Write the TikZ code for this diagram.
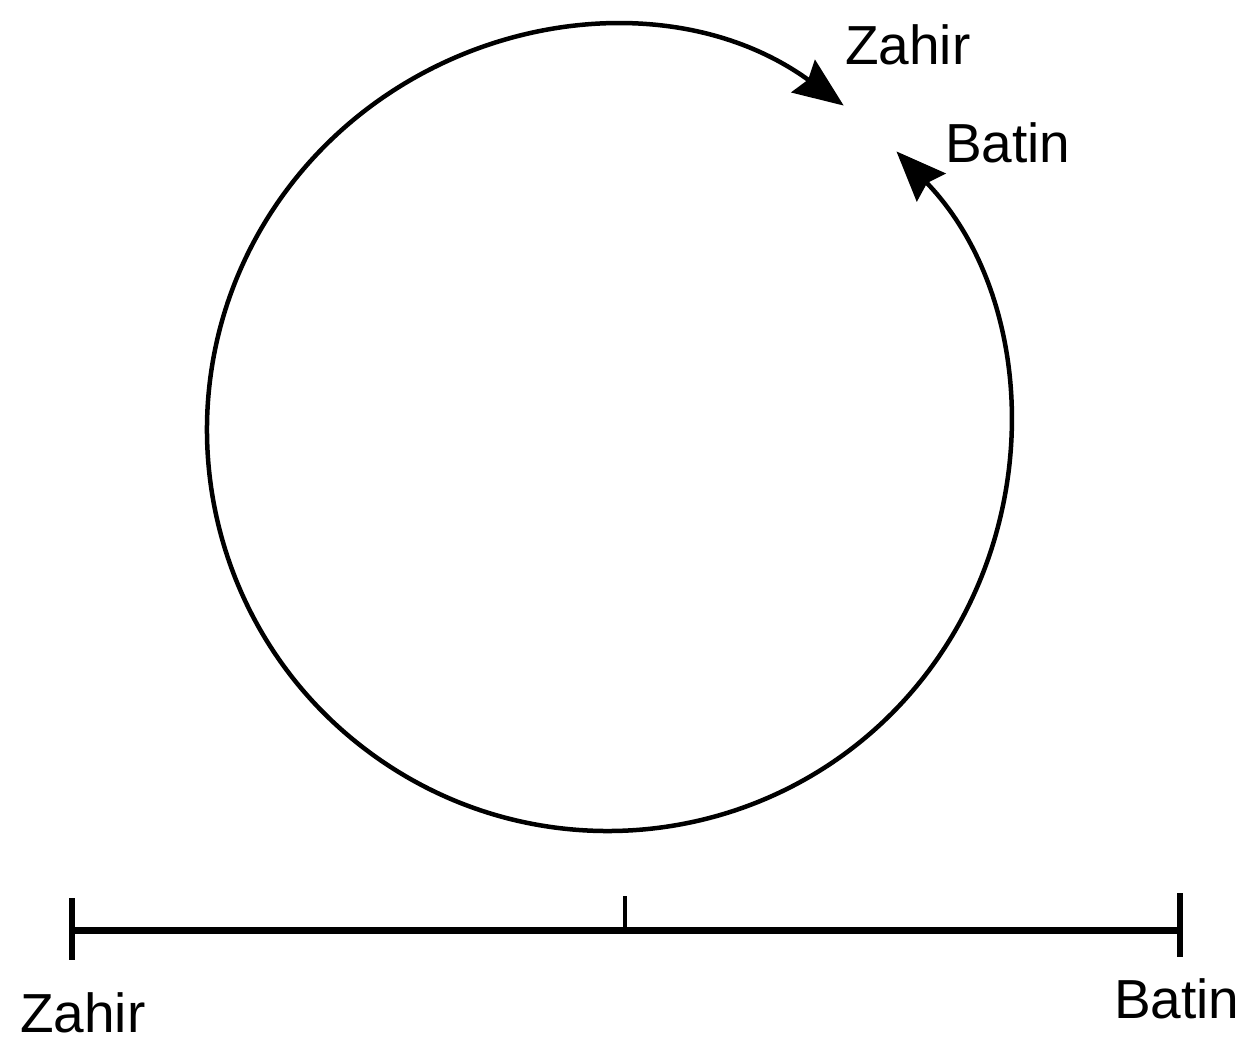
\documentclass[tikz,border=0pt]{standalone}
\usepackage{fontspec}
\setmainfont{Liberation Sans}
\usetikzlibrary{arrows.meta}
\begin{document}
\begin{tikzpicture}[x=1pt,y=1pt,
  lbl/.style={anchor=base west,inner sep=0pt,font=\fontsize{55}{60}\selectfont},
  ring/.style={line width=4.5pt,{Stealth[length=50pt,width=40pt,inset=6pt]}-{Stealth[length=50pt,width=40pt,inset=6pt]}},
  bar/.style={line width=7pt},
  tickmark/.style={line width=4pt}]
\useasboundingbox[fill=white] (0,0) rectangle (1242,1042);
\coordinate (C) at (608,612);
\draw[ring] (C) ++(54:401) arc[start angle=54,end angle=404,radius=401];
\node[lbl] (zt) at (845,977) {Zahir};
\node[lbl] (bt) at (945,879) {Batin};
\coordinate (L) at (72,112);
\coordinate (R) at (1180,112);
\coordinate (M) at (625,112);
\draw[bar] (L) -- (R);
\draw[line width=6pt] ([yshift=32pt]L) -- ([yshift=-30pt]L);
\draw[line width=6pt] ([yshift=37pt]R) -- ([yshift=-27pt]R);
\draw[tickmark] (M) -- ([yshift=34pt]M);
\node[lbl] (zb) at (20,10) {Zahir};
\node[lbl] (bb) at (1114,24) {Batin};
\end{tikzpicture}
\end{document}
